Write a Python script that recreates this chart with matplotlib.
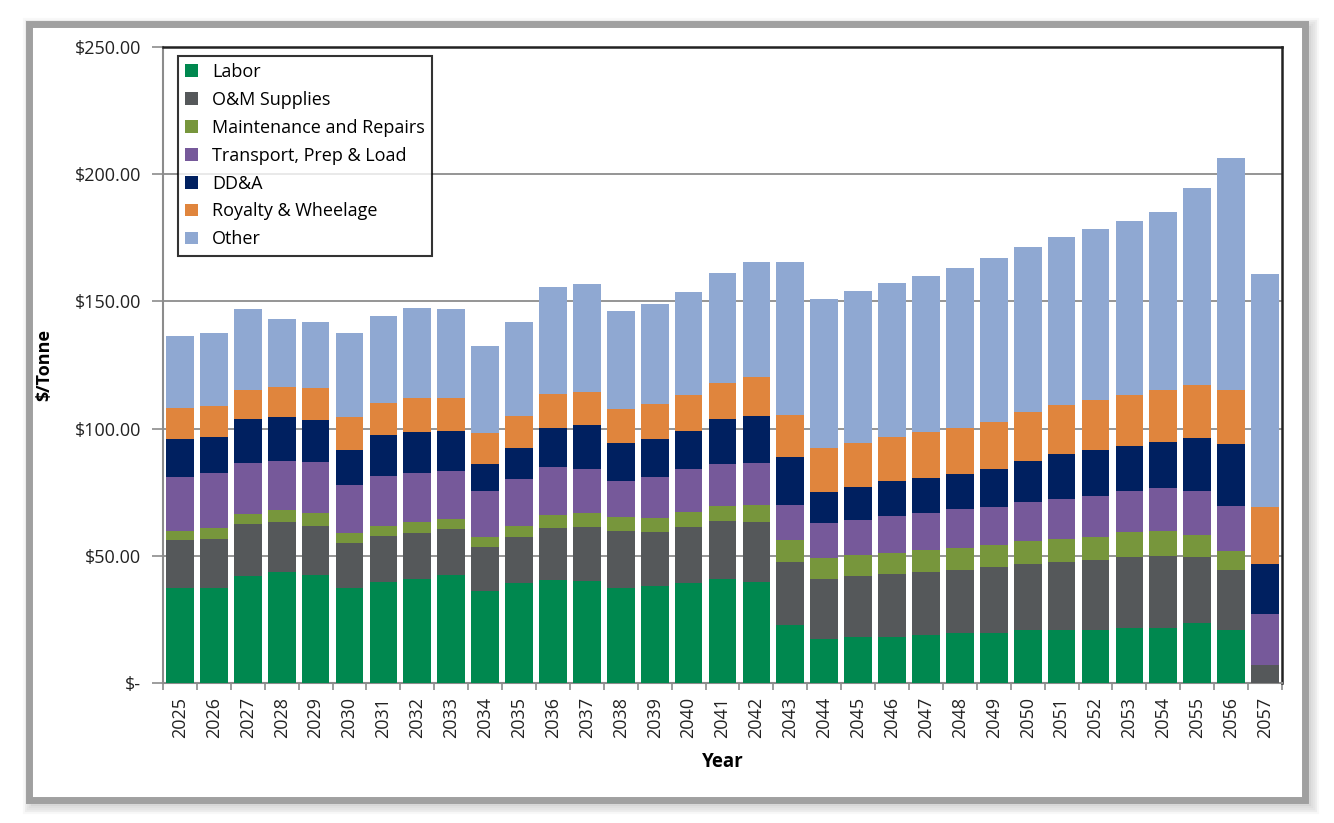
import matplotlib
matplotlib.use("Agg")
import matplotlib.pyplot as plt
from matplotlib.patches import Rectangle, Patch
import numpy as np

plt.rcParams['font.family'] = ['Open Sans', 'DejaVu Sans']

years = [str(y) for y in range(2025, 2058)]
labor = [37.2, 37.2, 42.1, 43.8, 42.5, 37.2, 39.8, 40.8, 42.5, 36.2, 39.4, 40.5, 40.1, 37.5, 38.1, 39.2, 40.8,
         39.8, 22.8, 17.3, 18.2, 18.2, 18.9, 19.5, 19.5, 20.8, 20.9, 20.9, 21.8, 21.8, 23.4, 20.8, 0.0]
om_supplies = [19.0, 19.4, 20.3, 19.6, 19.3, 18.0, 18.0, 18.3, 17.9, 17.1, 18.1, 20.5, 21.3, 22.4, 21.4, 22.2, 22.9,
               23.6, 24.9, 23.5, 23.9, 24.5, 24.6, 24.9, 26.2, 26.0, 26.8, 27.6, 27.7, 28.3, 26.3, 23.7, 7.0]
maintenance = [3.7, 4.2, 3.9, 4.6, 4.9, 3.6, 4.0, 4.1, 3.9, 4.0, 4.2, 5.0, 5.5, 5.5, 5.5, 5.9, 6.0,
               6.6, 8.5, 8.2, 8.2, 8.3, 8.8, 8.5, 8.5, 9.1, 8.9, 8.8, 9.7, 9.7, 8.5, 7.3, 0.0]
transport = [21.0, 21.6, 20.1, 19.4, 20.1, 19.0, 19.7, 19.2, 19.2, 18.2, 18.5, 19.0, 17.1, 14.1, 16.1, 16.7, 16.3,
             16.6, 13.8, 13.8, 13.8, 14.6, 14.6, 15.4, 15.1, 15.4, 15.8, 16.2, 16.3, 17.0, 17.3, 17.6, 20.3]
dda = [15.0, 14.4, 17.4, 17.3, 16.6, 13.8, 16.0, 16.4, 15.7, 10.5, 12.3, 15.4, 17.4, 15.0, 14.8, 15.2, 17.8,
       18.4, 19.0, 12.4, 13.1, 13.8, 13.6, 13.7, 14.7, 15.9, 17.8, 18.1, 17.5, 17.8, 20.7, 24.5, 19.5]
royalty = [12.1, 12.1, 11.4, 11.8, 12.4, 12.8, 12.7, 13.3, 12.7, 12.1, 12.5, 13.1, 13.1, 13.1, 13.6, 14.0, 14.0,
           15.2, 16.3, 17.1, 17.3, 17.4, 18.0, 18.1, 18.7, 19.3, 19.2, 19.6, 20.1, 20.5, 20.9, 21.2, 22.2]
other = [28.5, 28.6, 31.9, 26.6, 26.1, 33.1, 34.2, 35.2, 35.1, 34.4, 36.8, 42.3, 42.2, 38.7, 39.4, 40.6, 43.2,
         45.2, 60.1, 58.5, 59.6, 60.6, 61.6, 62.9, 64.2, 64.7, 65.8, 67.4, 68.7, 70.1, 77.6, 91.1, 91.9]

series_names = ["Labor", "O&M Supplies", "Maintenance and Repairs", "Transport, Prep & Load",
                "DD&A", "Royalty & Wheelage", "Other"]
series_values = [labor, om_supplies, maintenance, transport, dda, royalty, other]
colors = ["#00884F", "#55585A", "#77963C", "#76599A", "#002060", "#E0853D", "#8FA8D2"]

y_ticks = [0, 50, 100, 150, 200, 250]
y_ticklabels = ["$-", "$50.00", "$100.00", "$150.00", "$200.00", "$250.00"]

W, H = 1334, 823
fig = plt.figure(figsize=(W / 100, H / 100), dpi=100)
fig.patch.set_facecolor("white")

# outer framed "picture" border with soft shadow
def fr(x0, y0, x1, y1):
    return (x0 / W, 1 - y1 / H, (x1 - x0) / W, (y1 - y0) / H)

for i, a in enumerate([0.04, 0.06, 0.08, 0.10, 0.13]):
    off = 10 - i * 2
    x, y, w, h = fr(29 - off + 6, 24 - off + 6, 1305 + off + 2, 800 + off + 2)
    fig.patches.append(Rectangle((x, y), w, h, transform=fig.transFigure,
                                 facecolor="none", edgecolor=(0.3, 0.3, 0.3, a), linewidth=3, zorder=0))
x, y, w, h = fr(29, 24, 1305, 800)
fig.patches.append(Rectangle((x, y), w, h, transform=fig.transFigure,
                             facecolor="white", edgecolor="#a0a0a0", linewidth=5, zorder=1))

ax = fig.add_axes([163 / W, 1 - 683 / H, (1282 - 163) / W, (683 - 47) / H])
ax.set_zorder(2)
ax.set_facecolor("white")

xpos = np.arange(len(years))
bottom = np.zeros(len(years))
for name, vals, c in zip(series_names, series_values, colors):
    v = np.array(vals)
    ax.bar(xpos, v, width=0.82, bottom=bottom, color=c, label=name, zorder=3, linewidth=0)
    bottom += v

ax.set_xlim(-0.5, len(years) - 0.5)
ax.set_ylim(0, 250)
ax.set_yticks(y_ticks)
ax.set_yticklabels(y_ticklabels, fontsize=13, color="#222222")
ax.yaxis.grid(True, color="#8c8c8c", linewidth=1.3, zorder=0)
ax.set_axisbelow(True)
ax.tick_params(axis="y", direction="out", length=8, width=1.2, color="#8c8c8c", pad=8)

ax.set_xticks(xpos)
ax.set_xticklabels(years, rotation=90, fontsize=13, color="#222222")
ax.tick_params(axis="x", which="major", length=0, pad=10)
ax.set_xticks(np.arange(-0.5, len(years)), minor=True)
ax.tick_params(axis="x", which="minor", direction="out", length=5, width=1.2, color="#8c8c8c")

for side in ["left", "bottom"]:
    ax.spines[side].set_color("#8c8c8c")
    ax.spines[side].set_linewidth(1.5)
for side in ["top", "right"]:
    ax.spines[side].set_color("#222222")
    ax.spines[side].set_linewidth(1.8)

ax.set_ylabel("$/Tonne", fontsize=13, fontweight="bold")
ax.set_xlabel("Year", fontsize=13.5, fontweight="bold", labelpad=10)
ax.yaxis.set_label_coords(-0.0985, 0.5)

handles = [Patch(facecolor=c, edgecolor="none") for c in colors]
leg = ax.legend(handles, series_names, loc="upper left", bbox_to_anchor=(0.0134, 0.9865),
                fontsize=13, frameon=True, fancybox=False, handlelength=0.7, handleheight=0.7,
                handletextpad=0.8, labelspacing=0.55, borderpad=0.4, borderaxespad=0)
leg.get_frame().set_edgecolor("black")
leg.get_frame().set_linewidth(1.5)
leg.set_zorder(5)

fig.savefig("out.png", dpi=100, facecolor="white")
